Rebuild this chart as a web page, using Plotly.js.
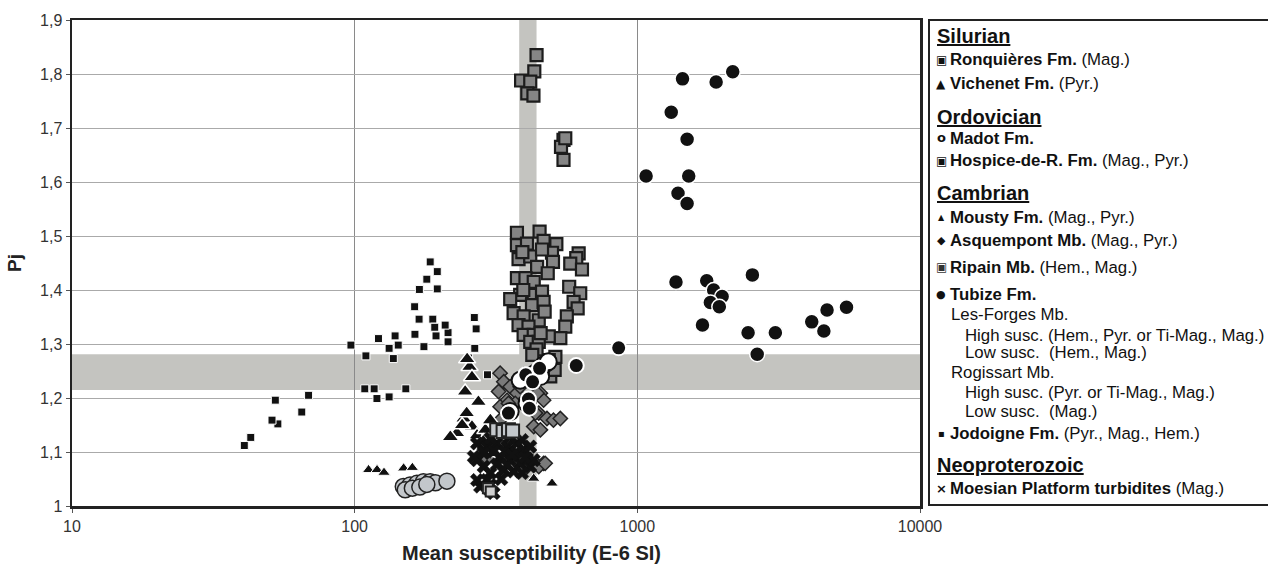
<!DOCTYPE html>
<html><head><meta charset="utf-8">
<script src="https://cdn.plot.ly/plotly-3.0.1.min.js"></script>
<style>body{margin:0;background:#fff}#chart{width:1268px;height:565px}</style>
</head><body><div id="chart"></div>
<script>
// ---- data (mean susceptibility E-6 SI, Pj) ----
const ripainX = [440,432,388,418,408,429,548,537,548,556,375,451,375,407,466,517,380,418,499,442,503,620,608,579,637,482,375,402,430,574,385,430,460,628,355,424,466,595,615,365,396,448,563,380,412,556,396,430,534,486,418,448,513,486,492,510,392,460,395,470,440,425,455];
const ripainY = [1.835,1.805,1.788,1.786,1.764,1.760,1.678,1.665,1.641,1.681,1.506,1.508,1.483,1.486,1.491,1.485,1.457,1.462,1.469,1.443,1.452,1.468,1.459,1.449,1.438,1.431,1.422,1.422,1.415,1.406,1.391,1.391,1.397,1.394,1.383,1.372,1.378,1.378,1.366,1.357,1.351,1.344,1.351,1.335,1.332,1.332,1.317,1.317,1.311,1.314,1.304,1.304,1.276,1.270,1.240,1.252,1.470,1.475,1.400,1.360,1.290,1.280,1.320];

const jodoigneX = [40.7,42.9,52.4,53.5,51,65,68.7,97,109.6,108.6,117.2,119.9,132.4,151.7,121.4,139,132.4,142.6,137,175.8,163.4,169,163,169.4,180,185,196,196,189,192,194,214,214,209,265,269,266,253,295];
const jodoigneY = [1.112,1.127,1.196,1.152,1.159,1.174,1.205,1.298,1.278,1.217,1.217,1.199,1.202,1.217,1.310,1.315,1.292,1.298,1.273,1.295,1.318,1.346,1.369,1.401,1.420,1.452,1.434,1.402,1.346,1.331,1.315,1.321,1.304,1.335,1.349,1.328,1.292,1.274,1.243];

const asquempontX = [327,337,355,323,375,346,370,327,454,466,448,479,505,534,430,454,436,327,396,385,466,448,402,350,442,294,472];
const asquempontY = [1.246,1.230,1.221,1.212,1.209,1.196,1.190,1.184,1.209,1.196,1.172,1.162,1.159,1.162,1.147,1.141,1.172,1.159,1.243,1.221,1.079,1.073,1.070,1.190,1.209,1.088,1.079];

const mousty_X = [255,260,246,274,243,260,230,271,290,218,249,302,310,250,240,285];
const mousty_Y = [1.258,1.239,1.212,1.193,1.162,1.147,1.135,1.131,1.141,1.128,1.172,1.159,1.098,1.272,1.150,1.120];

const vichenetX = [112,120,127,149,160,430,499];
const vichenetY = [1.067,1.067,1.062,1.070,1.071,1.051,1.042];

const moesianX = [278,302,310,271,294,318,346,375,396,327,355,385,407,286,302,337,365,418,271,302,355,391,418,286,310,341,370,318,346,391,430,271,294,264,286,330,360,400,300];
const moesianY = [1.036,1.039,1.024,1.085,1.110,1.116,1.110,1.116,1.104,1.091,1.085,1.079,1.088,1.073,1.061,1.067,1.064,1.073,1.116,1.125,1.128,1.122,1.110,1.101,1.101,1.101,1.098,1.076,1.076,1.061,1.085,1.048,1.048,1.091,1.098,1.050,1.095,1.090,1.030];

const hospiceX = [318,335,350,362];
const hospiceY = [1.141,1.138,1.141,1.139];

const ronquieresX = [296,303];
const ronquieresY = [1.033,1.027];

const madotX = [466,435,407,355,484,385,455];
const madotY = [1.261,1.246,1.190,1.175,1.267,1.233,1.240];

const tubizeHighX = [1445,1900,2175,1318,1500,1074,1520,1393,1500,1370,1760,2553,1862,1995,1813,1950,1700,2465,3078,4140,4690,5495,4570,2655];
const tubizeHighY = [1.791,1.785,1.804,1.729,1.679,1.611,1.611,1.579,1.560,1.415,1.417,1.428,1.400,1.388,1.377,1.369,1.335,1.321,1.321,1.341,1.363,1.368,1.324,1.281];

const tubizeLowX = [859,608,451,403,426,412,415,350];
const tubizeLowY = [1.293,1.260,1.255,1.243,1.230,1.198,1.181,1.172];

const rogissartLowX = [148.6,157,166,175,185,193,212,151,160,170,180];
const rogissartLowY = [1.036,1.039,1.042,1.045,1.045,1.043,1.046,1.030,1.033,1.035,1.040];

const xTicks = [10,100,1000,10000];
const xTickText = ['10','100','1000','10000'];
const yTicks = [1,1.1,1.2,1.3,1.4,1.5,1.6,1.7,1.8,1.9];
const yTickText = ['1','1,1','1,2','1,3','1,4','1,5','1,6','1,7','1,8','1,9'];

const bandX = [382,440];      // vertical shaded band (susceptibility)
const bandY = [1.215,1.281];  // horizontal shaded band (Pj)

// ---- traces ----
function tr(x,y,marker){return {x:x,y:y,type:'scatter',mode:'markers',marker:marker,hoverinfo:'x+y',showlegend:false};}
const traces = [
  tr(jodoigneX,jodoigneY,{symbol:'square',size:8,color:'#111',line:{color:'#fff',width:1}}),
  tr(asquempontX,asquempontY,{symbol:'diamond',size:11,color:'#7a7a7a',line:{color:'#222',width:1.5}}),
  tr(ripainX,ripainY,{symbol:'square',size:12,color:'#858585',line:{color:'#1c1c1c',width:2.2}}),
  tr(mousty_X,mousty_Y,{symbol:'triangle-up',size:15,color:'#111',line:{color:'#fff',width:1.5}}),
  tr(vichenetX,vichenetY,{symbol:'triangle-up',size:11,color:'#111',line:{color:'#fff',width:1}}),
  tr(moesianX,moesianY,{symbol:'x',size:12,color:'#111',line:{color:'#111',width:0.5}}),
  tr(hospiceX,hospiceY,{symbol:'square',size:13,color:'#c4c8cc',line:{color:'#222',width:2}}),
  tr(ronquieresX,ronquieresY,{symbol:'square',size:10,color:'#d0d0d0',line:{color:'#222',width:2}}),
  tr(rogissartLowX,rogissartLowY,{symbol:'circle',size:16,color:'#c3c7cb',line:{color:'#222',width:1.5}}),
  tr(madotX,madotY,{symbol:'circle',size:17,color:'#ffffff',line:{color:'#111',width:2}}),
  tr(tubizeLowX,tubizeLowY,{symbol:'circle',size:15,color:'#111',line:{color:'#fff',width:2}}),
  tr(tubizeHighX,tubizeHighY,{symbol:'circle',size:15,color:'#111',line:{color:'#fff',width:1.5}})
];

// ---- layout helpers ----
const L=72, R=920, T=20, B=506;
const px = v => (v-L)/(R-L);
const py = v => (B-v)/(B-T);

const ann = [];
function glyph(ch,y,size,color){ann.push({xref:'paper',yref:'paper',x:px(941),y:py(y),xanchor:'center',yanchor:'middle',showarrow:false,text:ch,font:{family:'DejaVu Sans',size:size,color:color||'#111'}});}
function txt(t,x,y,size){ann.push({xref:'paper',yref:'paper',x:px(x),y:py(y),xanchor:'left',yanchor:'middle',showarrow:false,text:t,font:{family:'Liberation Sans, Arial',size:size||16.8,color:'#111'}});}
function head(t,y){txt('<b><span style="text-decoration:underline">'+t+'</span></b>',935,y,20);}

head('Silurian',36);
glyph('▣',60,12); txt('<b>Ronquières Fm.</b> (Mag.)',948,60);
glyph('▲',84,12); txt('<b>Vichenet Fm.</b> (Pyr.)',948,84);
head('Ordovician',117);
glyph('<b>o</b>',137,13); txt('<b>Madot Fm.</b>',948,138);
glyph('▣',161,12); txt('<b>Hospice-de-R. Fm.</b> (Mag., Pyr.)',948,161);
head('Cambrian',193);
glyph('▲',217,8); txt('<b>Mousty Fm.</b> (Mag., Pyr.)',948,217);
glyph('◆',240,11); txt('<b>Asquempont Mb.</b> (Mag., Pyr.)',948,240);
glyph('▣',267,12,'#333'); txt('<b>Ripain Mb.</b> (Hem., Mag.)',948,267);
glyph('●',294,11); txt('<b>Tubize Fm.</b>',948,294);
txt('Les-Forges Mb.',949,314);
txt('High susc. (Hem., Pyr. or Ti-Mag., Mag.)',963,335);
txt('Low susc.  (Hem., Mag.)',963,353);
txt('Rogissart Mb.',949,372);
txt('High susc. (Pyr. or Ti-Mag., Mag.)',963,392);
txt('Low susc.  (Mag.)',963,411);
glyph('▪',433,10); txt('<b>Jodoigne Fm.</b> (Pyr., Mag., Hem.)',948,433);
head('Neoproterozoic',465);
glyph('<b>×</b>',488,13); txt('<b>Moesian Platform turbidites</b> (Mag.)',948,488);

// x-axis title (placed as in the reference, slightly right of centre)
ann.push({xref:'paper',yref:'paper',x:px(531),y:py(553),xanchor:'center',yanchor:'middle',showarrow:false,
  text:'<b>Mean susceptibility (E-6 SI)</b>',font:{family:'Liberation Sans, Arial',size:20,color:'#222'}});

const shapes = [
  {type:'rect',layer:'below',xref:'x',yref:'paper',x0:bandX[0],x1:bandX[1],y0:0,y1:1,fillcolor:'#c4c4c0',line:{width:0}},
  {type:'rect',layer:'below',xref:'paper',yref:'y',x0:0,x1:1,y0:bandY[0],y1:bandY[1],fillcolor:'#c4c4c0',line:{width:0}},
  {type:'rect',xref:'paper',yref:'paper',x0:px(929),x1:px(1290),y0:py(505),y1:py(20),line:{color:'#222',width:2},fillcolor:'rgba(0,0,0,0)'}
];

const layout = {
  width:1268,height:565,
  margin:{l:L,r:1268-R,t:T,b:565-B},
  paper_bgcolor:'#fff',plot_bgcolor:'#fff',
  font:{family:'Liberation Sans, Arial',color:'#333'},
  xaxis:{type:'log',range:[1,4],tickvals:xTicks,ticktext:xTickText,showgrid:true,gridcolor:'#8a8a8a',gridwidth:1,
    showline:true,linecolor:'#222',linewidth:2.5,mirror:true,ticks:'outside',ticklen:4,tickcolor:'#555',
    tickfont:{size:16,color:'#333'},zeroline:false},
  yaxis:{range:[1,1.9],tickvals:yTicks,ticktext:yTickText,showgrid:true,gridcolor:'#aaaaaa',gridwidth:1,
    showline:true,linecolor:'#222',linewidth:2.5,mirror:true,ticks:'outside',ticklen:4,tickcolor:'#555',
    tickfont:{size:16,color:'#333'},zeroline:false,
    title:{text:'<b>Pj</b>',font:{size:19,color:'#222'},standoff:14}},
  shapes:shapes,
  annotations:ann,
  showlegend:false
};

Plotly.newPlot('chart',traces,layout,{staticPlot:true,displayModeBar:false});
</script></body></html>
